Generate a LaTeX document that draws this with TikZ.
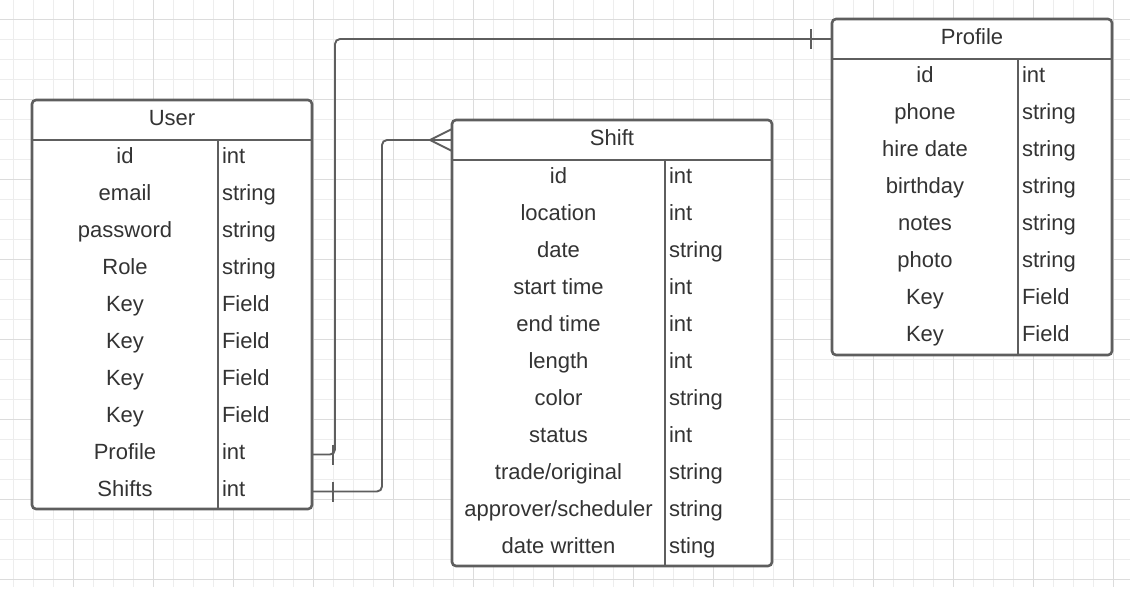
\documentclass[tikz,border=0pt]{standalone}
\usepackage{fontspec}
\setmainfont{Liberation Sans}
\usepackage{tikz}
\usepackage{xcolor}
\usetikzlibrary{positioning,calc}
\definecolor{gridminor}{HTML}{EDEDED}
\definecolor{gridmajor}{HTML}{DCDCDC}
\definecolor{boxline}{HTML}{5E5E5E}
\definecolor{textgray}{HTML}{333333}
\newcommand{\erfont}{\fontsize{22}{26}\selectfont}
\tikzset{
    table-box/.style = {draw=boxline, fill=white, line width=2.6pt, rectangle, rounded corners=4pt, inner sep=0pt, outer sep=0pt, anchor=north west},
    table-rule/.style = {draw=boxline, line width=2.6pt},
    table-title/.style = {anchor=north west, inner sep=0pt, outer sep=0pt, minimum height=40pt, text height=16pt, text depth=6pt, text=textgray, font=\erfont},
    field-name/.style = {anchor=north west, inner sep=0pt, outer sep=0pt, minimum height=37pt, text height=16pt, text depth=6pt, text=textgray, font=\erfont},
    field-type/.style = {field-name},
    link/.style = {draw=boxline, line width=1.9pt, rounded corners=5pt},
    link-mark/.style = {draw=boxline, line width=1.9pt},
}

\begin{document}
\begin{tikzpicture}[x=1pt, y=-1pt]
\useasboundingbox (0,0) rectangle (1130,590);
% grid
\foreach \gx in {13,33,...,1113} \draw[gridminor, line width=1pt] (\gx,0) -- (\gx,587);
\foreach \gy in {19,39,...,579} \draw[gridminor, line width=1pt] (0,\gy) -- (1130,\gy);
\foreach \gx in {73,153,...,1113} \draw[gridmajor, line width=1pt] (\gx,0) -- (\gx,587);
\foreach \gy in {19,99,...,579} \draw[gridmajor, line width=1pt] (0,\gy) -- (1130,\gy);

% User
\node[table-box, minimum width=280pt, minimum height=409pt] (user) at (32,100) {};
\node[table-title, minimum width=280pt] (user-title) at (32,100) {User};
\foreach \fname/\ftype [count=\i] in {id/int, email/string, password/string, Role/string, Key/Field, Key/Field, Key/Field, Key/Field, Profile/int, Shifts/int}{
    \node[field-name, minimum width=186pt] (user-\i) at (32,{140+37*(\i-1)}) {\fname};
    \node[field-type] (user-\i-type) at (222,{140+37*(\i-1)}) {\ftype};
}
\draw[table-rule] (user-title.south west) -- (user-title.south east);
\draw[table-rule] (user-1.north east) -- (user-1.north east |- user.south);

% Shift
\node[table-box, minimum width=320pt, minimum height=446pt] (shift) at (452,120) {};
\node[table-title, minimum width=320pt] (shift-title) at (452,120) {Shift};
\foreach \fname/\ftype [count=\i] in {id/int, location/int, date/string, start time/int, end time/int, length/int, color/string, status/int, {trade/original}/string, {approver/scheduler}/string, date written/sting}{
    \node[field-name, minimum width=213pt] (shift-\i) at (452,{160+37*(\i-1)}) {\fname};
    \node[field-type] (shift-\i-type) at (669,{160+37*(\i-1)}) {\ftype};
}
\draw[table-rule] (shift-title.south west) -- (shift-title.south east);
\draw[table-rule] (shift-1.north east) -- (shift-1.north east |- shift.south);

% Profile
\node[table-box, minimum width=280pt, minimum height=336pt] (profile) at (832,19) {};
\node[table-title, minimum width=280pt] (profile-title) at (832,19) {Profile};
\foreach \fname/\ftype [count=\i] in {id/int, phone/string, hire date/string, birthday/string, notes/string, photo/string, Key/Field, Key/Field}{
    \node[field-name, minimum width=186pt] (profile-\i) at (832,{59+37*(\i-1)}) {\fname};
    \node[field-type] (profile-\i-type) at (1022,{59+37*(\i-1)}) {\ftype};
}
\draw[table-rule] (profile-title.south west) -- (profile-title.south east);
\draw[table-rule] (profile-1.north east) -- (profile-1.north east |- profile.south);

% relations
\draw[link] (user-9.east -| user.east) -- ++(23,0) |- (profile-title.west);
\draw[link-mark] ($(user-9.east -| user.east)+(21,-10)$) -- ++(0,20);
\draw[link-mark] ($(profile-title.west)+(-21,-10)$) -- ++(0,20);

\draw[link] (user-10.east -| user.east) -- ++(70,0) |- (shift-title.west);
\draw[link-mark] ($(user-10.east -| user.east)+(21,-10)$) -- ++(0,20);
\draw[link-mark] ($(shift-title.west)+(0,-11)$) -- ++(-22,11) -- ++(22,11);
\end{tikzpicture}
\end{document}
